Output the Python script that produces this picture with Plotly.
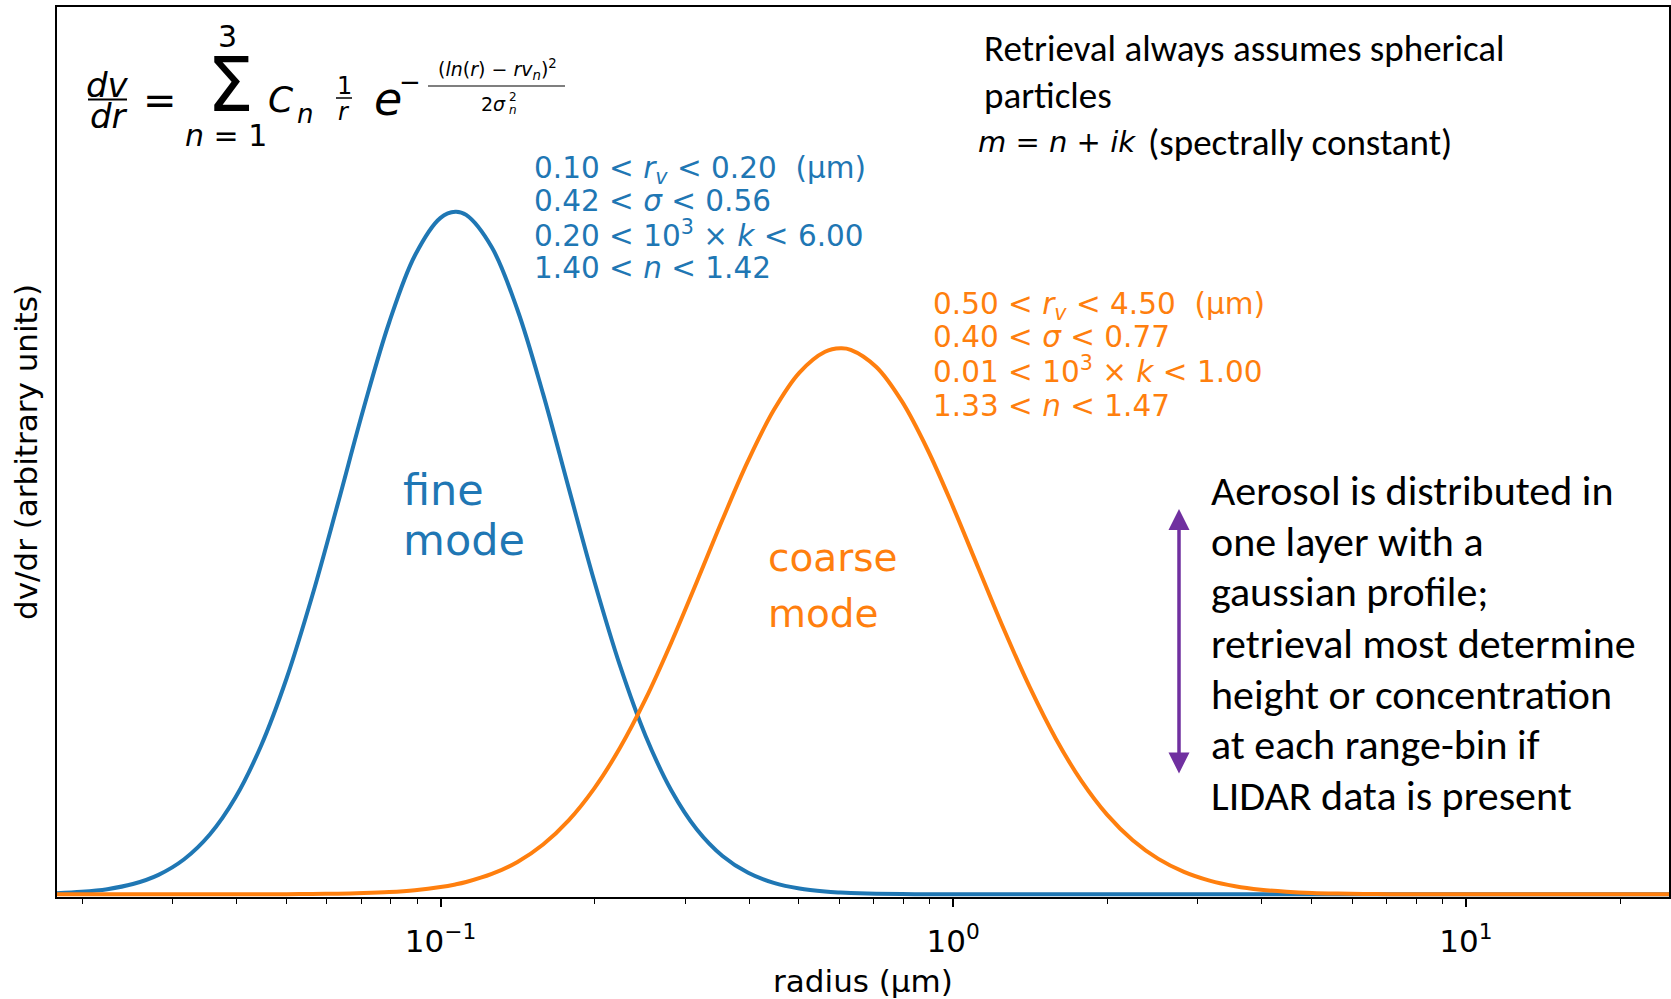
import plotly.graph_objects as go

# ---------------- data ----------------
radius_um = [0.01778, 0.01995, 0.02239, 0.02512, 0.02818, 0.03162, 0.03548, 0.03981,
             0.04467, 0.05012, 0.05623, 0.06310, 0.07079, 0.07943, 0.08913, 0.1000,
             0.1069, 0.1122, 0.1259, 0.1413, 0.1585, 0.1778, 0.1995, 0.2239, 0.2512,
             0.2818, 0.3162, 0.3548, 0.3981, 0.4467, 0.5012, 0.5623, 0.6026, 0.6310,
             0.7079, 0.7943, 0.8913, 1.000, 1.122, 1.259, 1.413, 1.585,
             1.778, 1.995, 2.239, 2.512, 2.818, 3.162, 3.548, 3.981,
             4.467, 5.012, 5.623, 6.310, 7.079, 7.943, 8.913, 10.00,
             11.22, 12.59, 14.13, 15.85, 17.78, 19.95, 22.39, 25.12]

fine_mode = [0.0016, 0.0036, 0.0075, 0.0150, 0.0285, 0.0513, 0.0875, 0.1417,
             0.2177, 0.3169, 0.4377, 0.5731, 0.7117, 0.8381, 0.9359, 0.9911,
             1.0000, 0.9953, 0.9479, 0.8561, 0.7331, 0.5954, 0.4586, 0.3349, 0.2320,
             0.1524, 0.0949, 0.0561, 0.0314, 0.0167, 0.0084, 0.0040, 0.0025, 0.0018,
             0.0008, 0.0003, 0.0001, 0.0, 0.0, 0.0, 0.0, 0.0,
             0.0, 0.0, 0.0, 0.0, 0.0, 0.0, 0.0, 0.0,
             0.0, 0.0, 0.0, 0.0, 0.0, 0.0, 0.0, 0.0,
             0.0, 0.0, 0.0, 0.0, 0.0, 0.0, 0.0, 0.0]

coarse_mode = [0.0, 0.0, 0.0, 0.0, 0.0, 0.0, 0.0, 0.0,
               0.0001, 0.0002, 0.0004, 0.0009, 0.0017, 0.0032, 0.0059, 0.0105,
               0.0144, 0.0180, 0.0298, 0.0474, 0.0730, 0.1083, 0.1552, 0.2146, 0.2862,
               0.3686, 0.4579, 0.5490, 0.6353, 0.7094, 0.7644, 0.7949, 0.8000, 0.7978,
               0.7726, 0.7221, 0.6513, 0.5669, 0.4762, 0.3860, 0.3019, 0.2279,
               0.1661, 0.1167, 0.0792, 0.0519, 0.0328, 0.0200, 0.0118, 0.0067,
               0.0037, 0.0019, 0.0010, 0.0005, 0.0002, 0.0001, 0.0, 0.0,
               0.0, 0.0, 0.0, 0.0, 0.0, 0.0, 0.0, 0.0]

major_tick_vals = [0.1, 1, 10]
major_tick_text = ["10<sup>\u22121</sup>", "10<sup>0</sup>", "10<sup>1</sup>"]
minor_tick_vals = [0.02, 0.03, 0.04, 0.05, 0.06, 0.07, 0.08, 0.09,
                   0.2, 0.3, 0.4, 0.5, 0.6, 0.7, 0.8, 0.9,
                   2, 3, 4, 5, 6, 7, 8, 9, 20]

fine_ranges = ["0.10 < <i>r<sub>v</sub></i> < 0.20\u00a0\u00a0(\u03bcm)",
               "0.42 < <i>\u03c3</i> < 0.56",
               "0.20 < 10<sup>3</sup> \u00d7 <i>k</i> < 6.00",
               "1.40 < <i>n</i> < 1.42"]
coarse_ranges = ["0.50 < <i>r<sub>v</sub></i> < 4.50\u00a0\u00a0(\u03bcm)",
                 "0.40 < <i>\u03c3</i> < 0.77",
                 "0.01 < 10<sup>3</sup> \u00d7 <i>k</i> < 1.00",
                 "1.33 < <i>n</i> < 1.47"]
assumption_lines = ["Retrieval always assumes spherical", "particles"]
profile_lines = ["Aerosol is distributed in", "one layer with a", "gaussian profile;",
                 "retrieval most determine", "height or concentration",
                 "at each range-bin if", "LIDAR data is present"]

# ---------------- geometry ----------------
W, H = 1671, 999
ML, MR, MT, MB = 57, 2, 7, 102
PW, PH = W - ML - MR, H - MT - MB

BLUE = "#1f77b4"
ORANGE = "#ff7f0e"
PURPLE = "#7030a0"
MPL = "DejaVu Sans"
SLIDE = "Carlito, Lato, sans-serif"


def px(x):
    return (x - ML) / PW


def py(y):
    return 1 - (y - MT) / PH


annotations = []
shapes = []


def label(text, x, y, size, color="black", family=MPL, xanchor="left", yanchor="middle"):
    annotations.append(dict(text=text, x=px(x), y=py(y), xref="paper", yref="paper",
                            xanchor=xanchor, yanchor=yanchor, showarrow=False,
                            font=dict(family=family, size=size, color=color)))


def bar(x0, x1, y, w):
    shapes.append(dict(type="line", xref="paper", yref="paper", x0=px(x0), x1=px(x1),
                       y0=py(y), y1=py(y), line=dict(color="black", width=w)))


fig = go.Figure()
fig.add_trace(go.Scatter(x=radius_um, y=fine_mode, mode="lines",
                         line=dict(color=BLUE, width=4, shape="spline", smoothing=1.0),
                         hoverinfo="skip", showlegend=False))
fig.add_trace(go.Scatter(x=radius_um, y=coarse_mode, mode="lines",
                         line=dict(color=ORANGE, width=4, shape="spline", smoothing=1.0),
                         hoverinfo="skip", showlegend=False))

# size-distribution equation
label("<i>dv</i>", 107, 85, 34, xanchor="center")
bar(88, 127, 99.5, 2)
label("<i>dr</i>", 109, 116, 34, xanchor="center")
label("=", 160, 100, 40, xanchor="center")
label("\u03a3", 230, 85, 74, xanchor="center")
label("3", 227, 36, 30, xanchor="center")
label("<i>n</i> = 1", 226, 136, 30, xanchor="center")
label("<i>C</i>", 281, 99, 36, xanchor="center")
label("<i>n</i>", 305, 114, 26, xanchor="center")
label("1", 344, 86, 24, xanchor="center")
bar(336, 352, 98, 1.5)
label("<i>r</i>", 344, 112, 24, xanchor="center")
label("<i>e</i>", 388, 99, 46, xanchor="center")
label("\u2212", 410, 82, 26, xanchor="center")
label("(<i>ln</i>(<i>r</i>) \u2212 <i>rv<sub>n</sub></i>)<sup>2</sup>", 497, 70, 19, xanchor="center")
bar(428, 565, 86, 1.2)
label("2<i>\u03c3</i>", 494, 104, 19, xanchor="center")
label("2", 513, 97, 12, xanchor="center")
label("<i>n</i>", 513, 110, 12, xanchor="center")

# parameter ranges
for i, t in enumerate(fine_ranges):
    label(t, 532, [170, 201, 234, 268][i], 29.5, color=BLUE)
for i, t in enumerate(coarse_ranges):
    label(t, 931, [306, 337, 370, 406][i], 29.5, color=ORANGE)

label("fine", 401, 490, 43, color=BLUE)
label("mode", 401, 540, 43, color=BLUE)
label("coarse", 766, 557, 39, color=ORANGE)
label("mode", 766, 613, 39, color=ORANGE)

# retrieval notes
label(assumption_lines[0], 982, 49, 37, family=SLIDE)
label(assumption_lines[1], 982, 95, 37, family=SLIDE)
label("<i>m</i> = <i>n</i> + <i>ik</i>", 976, 142, 29)
label("(spectrally constant)", 1146, 142, 37, family=SLIDE)
for i, t in enumerate(profile_lines):
    label(t, 1209, [490, 541, 591, 643, 694, 744, 795][i], 42, family=SLIDE)

# vertical extent arrow
annotations.append(dict(text="", x=px(1179), y=py(509), xref="paper", yref="paper",
                        ax=0, ay=266, axref="pixel", ayref="pixel", showarrow=True,
                        arrowhead=2, arrowside="end+start", arrowsize=1.2,
                        arrowwidth=3.5, arrowcolor=PURPLE, standoff=0, startstandoff=0))

fig.update_layout(
    width=W, height=H,
    margin=dict(l=ML, r=MR, t=MT, b=MB, pad=0),
    paper_bgcolor="white", plot_bgcolor="white",
    annotations=annotations, shapes=shapes,
    xaxis=dict(type="log", range=[-1.748, 1.396], showgrid=False, zeroline=False,
               showline=True, linecolor="black", linewidth=2, mirror=True,
               tickmode="array", tickvals=major_tick_vals, ticktext=major_tick_text,
               ticks="outside", ticklen=8, tickwidth=1.5, tickcolor="black",
               ticklabelstandoff=8,
               tickfont=dict(family=MPL, size=31, color="black"),
               minor=dict(tickmode="array", tickvals=minor_tick_vals, ticks="outside",
                          ticklen=4.5, tickwidth=1.2, tickcolor="black", showgrid=False),
               title=dict(text="radius (\u03bcm)", font=dict(family=MPL, size=31, color="black"),
                          standoff=12),
               automargin=False),
    yaxis=dict(range=[-0.004, 1.30], showgrid=False, zeroline=False, showline=True,
               linecolor="black", linewidth=2, mirror=True, showticklabels=False,
               ticks="",
               title=dict(text="dv/dr (arbitrary units)", font=dict(family=MPL, size=31, color="black"),
                          standoff=8),
               automargin=False),
)

fig.write_html("out.html")
